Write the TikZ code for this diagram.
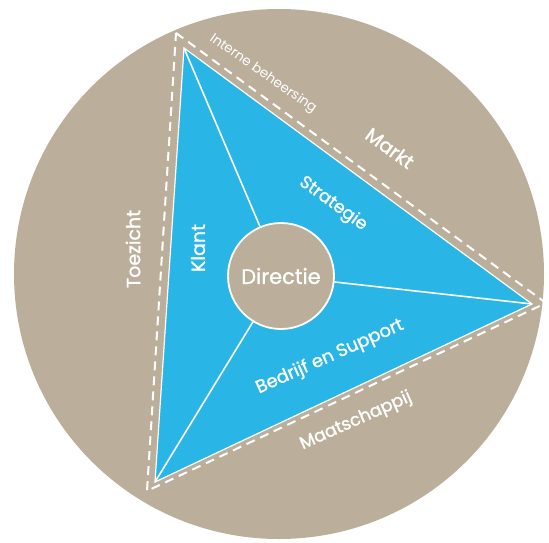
\documentclass[tikz,border=0pt]{standalone}
\usepackage{fontspec}
\setmainfont{Poppins}[FakeBold=1.2]
\newfontfamily\dunfont{Poppins}
\usetikzlibrary{positioning}
\definecolor{zand}{RGB}{187,175,155}
\definecolor{hemel}{RGB}{41,181,229}

\begin{document}
\begin{tikzpicture}[x=1pt, y=-1pt,
   lbl/.style={text=white, inner sep=0pt, font=\fontsize{18}{18}\selectfont},
   spoke/.style={draw=white, line width=1.6pt},
   dirnode/.style={circle, draw=white, line width=1.8pt, fill=zand, minimum size=106pt, inner sep=0pt,
                   text=white, font=\fontsize{21}{21}\selectfont}]
   \useasboundingbox (0,0) rectangle (549,543);
   \fill[zand] (279,274) circle (265pt);
   % hoeken van de driehoek
   \coordinate (tl) at (184,48);
   \coordinate (re) at (532,304);
   \coordinate (bl) at (155,482);
   \coordinate (dtl) at (176,33);
   \coordinate (dre) at (546,303);
   \coordinate (dbl) at (147,491);
   \filldraw[fill=hemel, draw=white, line width=1.2pt, line join=miter] (tl) -- (re) -- (bl) -- cycle;
   \draw[white, line width=2pt, dash pattern=on 9pt off 6pt] (dtl) -- (dre) -- (dbl) -- cycle;
   % directie en spaken
   \node[dirnode] (dir) at (281,276) {Directie};
   \draw[spoke] (dir) -- (tl);
   \draw[spoke] (dir) -- (re);
   \draw[spoke] (dir) -- (bl);
   % teksten
   \node[lbl, rotate=-35, font=\dunfont\fontsize{13.5}{13.5}\selectfont] (intern) at (263,74) {Interne beheersing};
   \node[lbl, rotate=-36, font=\fontsize{19.5}{19.5}\selectfont] (markt) at (390,148) {Markt};
   \node[lbl, rotate=-36, font=\fontsize{17.5}{17.5}\selectfont] (strat) at (333,204) {Strategie};
   \node[lbl, rotate=90, font=\fontsize{19}{19}\selectfont] (klant) at (198,248) {Klant};
   \node[lbl, rotate=90, font=\fontsize{19}{19}\selectfont] (toez) at (133,249) {Toezicht};
   \node[lbl, rotate=24] (bedr) at (330,357) {Bedrijf en Support};
   \node[lbl, rotate=24, font=\fontsize{17.5}{17.5}\selectfont] (maat) at (356,421) {Maatschappij};
\end{tikzpicture}
\end{document}
